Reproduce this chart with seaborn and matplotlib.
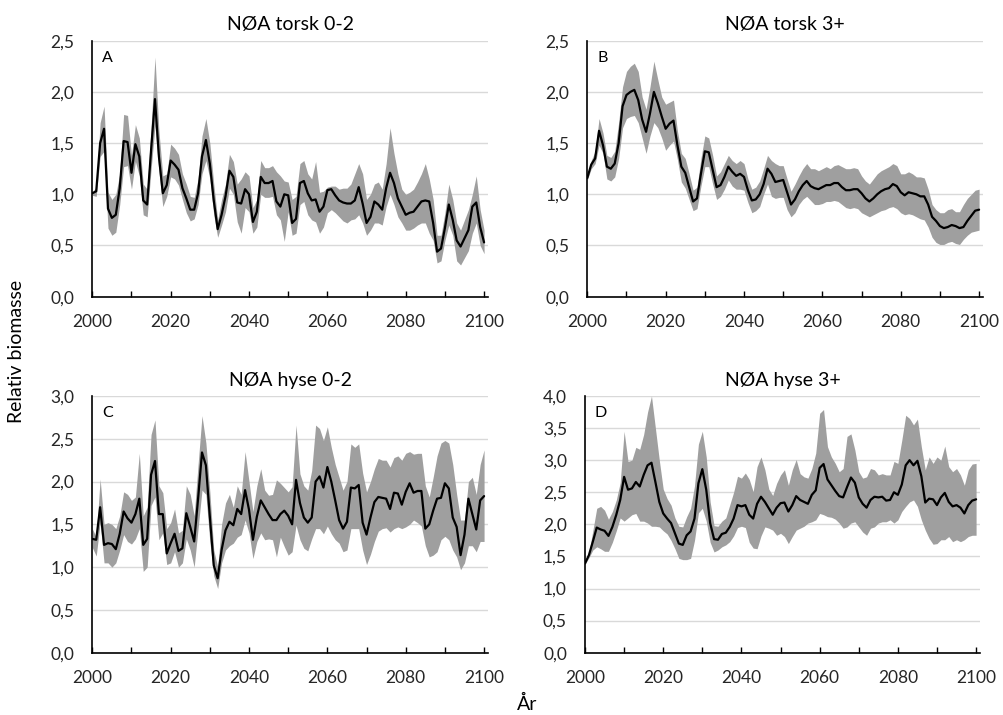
import numpy as np
import matplotlib
matplotlib.use("Agg")
import matplotlib.pyplot as plt
import seaborn as sns

years = list(range(2000, 2101))

# Panel A: NØA torsk 0-2
a_mean = [1.01, 1.03, 1.50, 1.64, 0.86, 0.77, 0.80, 1.06, 1.52, 1.51,
          1.21, 1.49, 1.37, 0.94, 0.90, 1.43, 1.93, 1.37, 1.01, 1.09,
          1.33, 1.29, 1.24, 1.06, 0.96, 0.85, 0.85, 1.01, 1.37, 1.53,
          1.30, 0.94, 0.66, 0.80, 0.98, 1.23, 1.17, 0.92, 0.91, 1.05,
          1.00, 0.73, 0.83, 1.17, 1.11, 1.11, 1.13, 0.93, 0.88, 1.00,
          0.99, 0.72, 0.76, 1.11, 1.13, 1.01, 0.94, 0.95, 0.83, 0.88,
          1.04, 1.05, 0.99, 0.94, 0.92, 0.91, 0.91, 0.94, 1.07, 0.91,
          0.72, 0.78, 0.93, 0.90, 0.85, 1.06, 1.21, 1.11, 0.96, 0.88,
          0.80, 0.82, 0.83, 0.88, 0.93, 0.94, 0.93, 0.72, 0.44, 0.47,
          0.67, 0.90, 0.75, 0.55, 0.49, 0.57, 0.65, 0.88, 0.92, 0.68, 0.53]
a_low = [0.99, 0.98, 1.37, 1.42, 0.67, 0.60, 0.63, 0.90, 1.27, 1.28,
         1.05, 1.32, 1.18, 0.80, 0.78, 1.24, 1.67, 1.22, 0.88, 0.98,
         1.17, 1.15, 1.09, 0.95, 0.82, 0.74, 0.76, 0.90, 1.20, 1.33,
         1.15, 0.80, 0.58, 0.70, 0.83, 1.06, 1.00, 0.73, 0.62, 0.87,
         0.83, 0.62, 0.68, 1.00, 0.97, 0.97, 0.98, 0.80, 0.75, 0.54,
         0.83, 0.60, 0.62, 0.90, 0.93, 0.80, 0.75, 0.73, 0.62, 0.68,
         0.82, 0.85, 0.82, 0.78, 0.74, 0.72, 0.75, 0.76, 0.80, 0.72,
         0.60, 0.65, 0.72, 0.72, 0.70, 0.88, 1.00, 0.90, 0.78, 0.72,
         0.65, 0.65, 0.67, 0.70, 0.72, 0.72, 0.62, 0.55, 0.33, 0.35,
         0.55, 0.70, 0.60, 0.35, 0.31, 0.38, 0.45, 0.62, 0.72, 0.50, 0.42]
a_high = [1.02, 1.07, 1.70, 1.86, 1.02, 0.95, 1.00, 1.20, 1.78, 1.77,
          1.38, 1.68, 1.55, 1.10, 1.05, 1.65, 2.34, 1.62, 1.18, 1.20,
          1.49, 1.45, 1.39, 1.20, 1.10, 0.98, 0.97, 1.15, 1.57, 1.74,
          1.50, 1.10, 0.75, 0.95, 1.10, 1.39, 1.32, 1.10, 1.15, 1.22,
          1.18, 0.87, 0.95, 1.33, 1.26, 1.26, 1.28, 1.22, 1.18, 1.13,
          1.12, 0.95, 0.98, 1.30, 1.33, 1.20, 1.15, 1.32, 1.02, 1.03,
          1.07, 1.08, 1.08, 1.05, 1.06, 1.06, 1.10, 1.20, 1.30, 1.20,
          0.95, 1.00, 1.10, 1.12, 1.05, 1.30, 1.65, 1.40, 1.20, 1.05,
          1.00, 1.02, 1.05, 1.12, 1.20, 1.30, 1.15, 0.95, 0.60, 0.60,
          0.82, 1.10, 0.95, 0.72, 0.65, 0.75, 0.85, 1.00, 1.18, 0.85, 0.65]

# Panel B: NØA torsk 3+
b_mean = [1.16, 1.29, 1.35, 1.62, 1.48, 1.27, 1.25, 1.30, 1.50, 1.86,
          1.97, 2.00, 2.02, 1.92, 1.73, 1.61, 1.79, 2.00, 1.89, 1.76,
          1.64, 1.69, 1.72, 1.48, 1.27, 1.21, 1.07, 0.93, 0.96, 1.20,
          1.42, 1.41, 1.24, 1.07, 1.09, 1.17, 1.27, 1.22, 1.18, 1.20,
          1.17, 1.04, 0.94, 0.95, 1.00, 1.10, 1.25, 1.20, 1.12, 1.13,
          1.14, 1.02, 0.90, 0.95, 1.03, 1.09, 1.13, 1.08, 1.06, 1.05,
          1.07, 1.09, 1.09, 1.11, 1.11, 1.07, 1.04, 1.04, 1.05, 1.05,
          1.01, 0.96, 0.93, 0.96, 1.00, 1.03, 1.05, 1.06, 1.10, 1.08,
          1.02, 0.99, 1.02, 1.01, 1.00, 0.98, 0.98, 0.90, 0.78, 0.74,
          0.69, 0.67, 0.68, 0.70, 0.69, 0.67, 0.68, 0.74, 0.79, 0.84, 0.85]
b_low = [1.14, 1.25, 1.30, 1.48, 1.40, 1.15, 1.13, 1.17, 1.35, 1.65,
         1.74, 1.76, 1.77, 1.70, 1.55, 1.40, 1.57, 1.70, 1.65, 1.55,
         1.43, 1.48, 1.52, 1.34, 1.12, 1.06, 0.95, 0.84, 0.86, 1.08,
         1.27, 1.27, 1.10, 0.95, 0.98, 1.05, 1.14, 1.08, 1.05, 1.05,
         1.04, 0.92, 0.82, 0.84, 0.88, 1.00, 1.10, 0.98, 0.96, 0.97,
         0.97, 0.85, 0.78, 0.82, 0.90, 0.95, 0.98, 0.94, 0.90, 0.90,
         0.91, 0.93, 0.93, 0.94, 0.93, 0.90, 0.87, 0.86, 0.87, 0.86,
         0.82, 0.80, 0.78, 0.80, 0.82, 0.84, 0.85, 0.87, 0.88, 0.86,
         0.82, 0.80, 0.81, 0.80, 0.78, 0.76, 0.75, 0.68, 0.58, 0.53,
         0.51, 0.51, 0.53, 0.54, 0.52, 0.51, 0.56, 0.60, 0.63, 0.64, 0.65]
b_high = [1.18, 1.33, 1.42, 1.74, 1.60, 1.38, 1.36, 1.42, 1.70, 2.05,
          2.20, 2.25, 2.28, 2.20, 1.95, 1.83, 2.05, 2.30, 2.12, 1.95,
          1.88, 1.90, 1.92, 1.62, 1.40, 1.35, 1.20, 1.04, 1.07, 1.35,
          1.57, 1.55, 1.38, 1.18, 1.22, 1.30, 1.38, 1.33, 1.30, 1.33,
          1.30, 1.15, 1.05, 1.07, 1.13, 1.25, 1.38, 1.33, 1.30, 1.28,
          1.28, 1.15, 1.03, 1.10, 1.18, 1.25, 1.30, 1.25, 1.25, 1.23,
          1.25, 1.27, 1.25, 1.28, 1.29, 1.27, 1.25, 1.25, 1.26, 1.25,
          1.18, 1.13, 1.10, 1.15, 1.20, 1.23, 1.25, 1.27, 1.30, 1.28,
          1.20, 1.20, 1.22, 1.20, 1.17, 1.17, 1.16, 1.05, 0.90, 0.85,
          0.82, 0.82, 0.85, 0.86, 0.83, 0.83, 0.90, 0.96, 1.00, 1.04, 1.05]

# Panel C: NØA hyse 0-2
c_mean = [1.33, 1.32, 1.70, 1.26, 1.28, 1.27, 1.21, 1.39, 1.65, 1.57,
          1.52, 1.62, 1.80, 1.26, 1.33, 2.08, 2.24, 1.62, 1.62, 1.16,
          1.28, 1.39, 1.19, 1.22, 1.63, 1.47, 1.30, 1.80, 2.34, 2.19,
          1.59, 1.02, 0.87, 1.20, 1.43, 1.53, 1.49, 1.68, 1.62, 1.90,
          1.67, 1.32, 1.59, 1.78, 1.70, 1.62, 1.55, 1.55, 1.62, 1.66,
          1.60, 1.50, 2.02, 1.75, 1.58, 1.52, 1.58, 2.00, 2.06, 1.93,
          2.17, 2.00, 1.78, 1.55, 1.45, 1.53, 1.93, 1.92, 1.96, 1.52,
          1.38, 1.58, 1.76, 1.82, 1.81, 1.80, 1.68, 1.87, 1.86, 1.73,
          1.88, 1.98, 1.87, 1.89, 1.89, 1.45, 1.50, 1.66, 1.80, 1.81,
          1.98, 1.92, 1.58, 1.47, 1.14, 1.38, 1.80, 1.62, 1.44, 1.78, 1.83]
c_low = [1.23, 1.13, 1.52, 1.05, 1.05, 1.00, 1.05, 1.20, 1.38, 1.30,
         1.27, 1.33, 1.45, 0.95, 1.00, 1.72, 1.82, 1.32, 1.40, 1.03,
         1.05, 1.18, 1.00, 1.05, 1.33, 1.20, 1.00, 1.45, 1.90, 1.85,
         1.30, 0.90, 0.75, 1.05, 1.20, 1.25, 1.28, 1.35, 1.38, 1.55,
         1.40, 1.10, 1.30, 1.40, 1.32, 1.33, 1.32, 1.12, 1.35, 1.24,
         1.14, 1.18, 1.49, 1.32, 1.22, 1.19, 1.33, 1.45, 1.45, 1.39,
         1.48, 1.39, 1.32, 1.28, 1.18, 1.20, 1.45, 1.45, 1.45, 1.20,
         1.03, 1.15, 1.30, 1.42, 1.45, 1.46, 1.41, 1.45, 1.47, 1.45,
         1.47, 1.50, 1.55, 1.52, 1.48, 1.25, 1.12, 1.14, 1.18, 1.32,
         1.36, 1.32, 1.20, 1.12, 0.97, 1.05, 1.25, 1.25, 1.18, 1.30, 1.30]
c_high = [1.45, 1.35, 2.03, 1.50, 1.52, 1.50, 1.45, 1.60, 1.88, 1.85,
          1.78, 1.82, 2.33, 1.60, 1.70, 2.55, 2.72, 1.95, 1.87, 1.45,
          1.52, 1.68, 1.40, 1.43, 1.95, 1.85, 1.60, 2.20, 2.77, 2.45,
          1.88, 1.20, 1.00, 1.50, 1.75, 1.85, 1.70, 1.95, 1.85, 2.35,
          2.00, 1.65, 1.95, 2.15, 1.90, 1.84, 1.85, 2.02, 1.98, 1.93,
          1.88, 1.94, 2.66, 2.09, 1.95, 1.90, 2.13, 2.66, 2.62, 2.48,
          2.64, 2.40, 2.20, 2.05, 1.90, 2.00, 2.44, 2.40, 2.44, 2.10,
          1.88, 2.00, 2.15, 2.27, 2.25, 2.25, 2.17, 2.28, 2.30, 2.25,
          2.33, 2.35, 2.32, 2.33, 2.33, 1.95, 1.82, 2.05, 2.30, 2.45,
          2.48, 2.45, 2.20, 1.85, 1.55, 1.55, 2.00, 2.05, 1.85, 2.20, 2.37]

# Panel D: NØA hyse 3+
d_mean = [1.39, 1.52, 1.73, 1.95, 1.92, 1.90, 1.82, 1.96, 2.15, 2.38,
          2.74, 2.54, 2.56, 2.66, 2.59, 2.77, 2.92, 2.96, 2.66, 2.35,
          2.17, 2.09, 2.02, 1.86, 1.70, 1.68, 1.83, 1.89, 2.09, 2.64,
          2.86, 2.54, 2.02, 1.77, 1.76, 1.85, 1.87, 1.96, 2.09, 2.30,
          2.28, 2.30, 2.15, 2.09, 2.32, 2.43, 2.35, 2.25, 2.15, 2.26,
          2.33, 2.34, 2.20, 2.30, 2.44, 2.38, 2.35, 2.32, 2.46, 2.53,
          2.88, 2.94, 2.70, 2.61, 2.52, 2.44, 2.42, 2.58, 2.73, 2.65,
          2.42, 2.32, 2.26, 2.38, 2.43, 2.42, 2.43, 2.37, 2.38, 2.50,
          2.46, 2.62, 2.92, 3.00, 2.92, 2.99, 2.75, 2.34, 2.40, 2.39,
          2.30, 2.42, 2.49, 2.35, 2.28, 2.30, 2.26, 2.17, 2.30, 2.37, 2.39]
d_low = [1.38, 1.48, 1.60, 1.65, 1.62, 1.58, 1.58, 1.72, 1.90, 2.10,
         2.05, 2.10, 2.15, 2.17, 2.05, 2.05, 2.02, 1.97, 1.97, 1.96,
         1.90, 1.85, 1.75, 1.62, 1.47, 1.45, 1.45, 1.47, 1.75, 2.18,
         2.25, 2.05, 1.72, 1.57, 1.60, 1.65, 1.68, 1.73, 1.82, 1.95,
         1.97, 1.95, 1.72, 1.63, 1.62, 1.82, 1.96, 1.94, 1.91, 1.83,
         1.86, 1.81, 1.70, 1.81, 1.91, 1.94, 1.97, 2.02, 2.04, 2.07,
         2.17, 2.15, 2.12, 2.11, 2.08, 2.02, 1.94, 1.96, 2.02, 2.04,
         1.96, 1.88, 1.83, 1.94, 1.96, 2.02, 2.04, 2.04, 2.07, 2.02,
         2.07, 2.20, 2.28, 2.35, 2.38, 2.28, 2.07, 1.91, 1.78, 1.69,
         1.70, 1.76, 1.76, 1.81, 1.73, 1.76, 1.73, 1.76, 1.81, 1.83, 1.83]
d_high = [1.40, 1.56, 1.90, 2.25, 2.28, 2.22, 2.08, 2.20, 2.38, 2.65,
          3.45, 2.98, 3.00, 3.20, 3.17, 3.40, 3.75, 4.00, 3.50, 3.00,
          2.55, 2.40, 2.30, 2.10, 1.97, 1.96, 2.12, 2.25, 2.60, 3.25,
          3.45, 3.05, 2.35, 1.98, 1.97, 2.05, 2.10, 2.30, 2.50, 2.75,
          2.72, 2.80, 2.70, 2.51, 2.90, 3.05, 2.85, 2.55, 2.45, 2.64,
          2.77, 2.85, 2.61, 2.85, 3.01, 2.79, 2.74, 2.72, 2.87, 3.11,
          3.73, 3.79, 3.21, 3.05, 2.95, 2.82, 2.87, 3.37, 3.41, 3.16,
          2.82, 2.72, 2.74, 2.87, 2.85, 2.77, 2.79, 2.77, 2.77, 2.98,
          2.95, 3.31, 3.70, 3.65, 3.55, 3.64, 3.21, 2.85, 3.05, 2.95,
          3.05, 3.00, 3.22, 2.90, 2.82, 2.87, 2.77, 2.61, 2.85, 2.94, 2.95]

titles = ["NØA torsk 0-2", "NØA torsk 3+", "NØA hyse 0-2", "NØA hyse 3+"]
letters = ["A", "B", "C", "D"]
ymaxes = [2.5, 2.5, 3.0, 4.0]
x_ticks = list(range(2000, 2101, 10))
x_labels = [str(y) if (y - 2000) % 20 == 0 else "" for y in x_ticks]

sns.set_style("white")
plt.rcParams["font.family"] = ["Lato", "DejaVu Sans"]
plt.rcParams["text.color"] = "#000000"

W, H = 1004, 715
fig = plt.figure(figsize=(W / 100, H / 100), dpi=100)

# axes boxes in pixels: left, top, right, bottom
boxes = [(92.3, 40.7, 488, 296.7), (587.3, 40.7, 983, 296.7),
         (92.3, 396, 488, 652.7), (585, 396, 980, 652.7)]

series = [(a_mean, a_low, a_high), (b_mean, b_low, b_high),
          (c_mean, c_low, c_high), (d_mean, d_low, d_high)]

for i, (box, (m, lo, hi)) in enumerate(zip(boxes, series)):
    l, t, r, b = box
    ax = fig.add_axes([l / W, 1 - b / H, (r - l) / W, (b - t) / H])
    ax.fill_between(years, lo, hi, color="#9f9f9f", lw=0, zorder=2)
    sns.lineplot(x=years, y=m, ax=ax, color="black", lw=1.6, zorder=3)
    ymax = ymaxes[i]
    ax.set_xlim(2000, 2101)
    ax.set_ylim(0, ymax)
    yt = np.arange(0, ymax + 0.001, 0.5)
    ax.set_yticks(yt)
    ax.set_yticklabels([f"{v:.1f}".replace(".", ",") for v in yt])
    ax.set_xticks(x_ticks)
    ax.set_xticklabels(x_labels)
    ax.yaxis.grid(True, color="#d9d9d9", lw=1.0)
    ax.xaxis.grid(False)
    ax.set_axisbelow(True)
    for s in ["top", "right"]:
        ax.spines[s].set_visible(False)
    for s in ["left", "bottom"]:
        ax.spines[s].set_color("black")
        ax.spines[s].set_linewidth(1.2)
        ax.spines[s].set_zorder(4)
    ax.tick_params(axis="x", direction="in", length=4.3, width=1.0,
                   color="black", pad=12.5, labelsize=12.5, bottom=True)
    ax.tick_params(axis="y", length=0, pad=13, labelsize=12.5, left=True)
    ax.set_xlabel("")
    ax.set_ylabel("")
    ax.set_title(titles[i], fontsize=14, pad=7.5)
    ax.text(10 / (r - l), 1 - 10 / (b - t), letters[i], transform=ax.transAxes,
            ha="left", va="top", fontsize=11.5)

fig.text(16.5 / W, 1 - 351 / H, "Relativ biomasse", rotation=90,
         ha="center", va="center", fontsize=14)
fig.text(527 / W, 1 - 704 / H, "År", ha="center", va="center", fontsize=14)

fig.savefig("out.png", dpi=100)
